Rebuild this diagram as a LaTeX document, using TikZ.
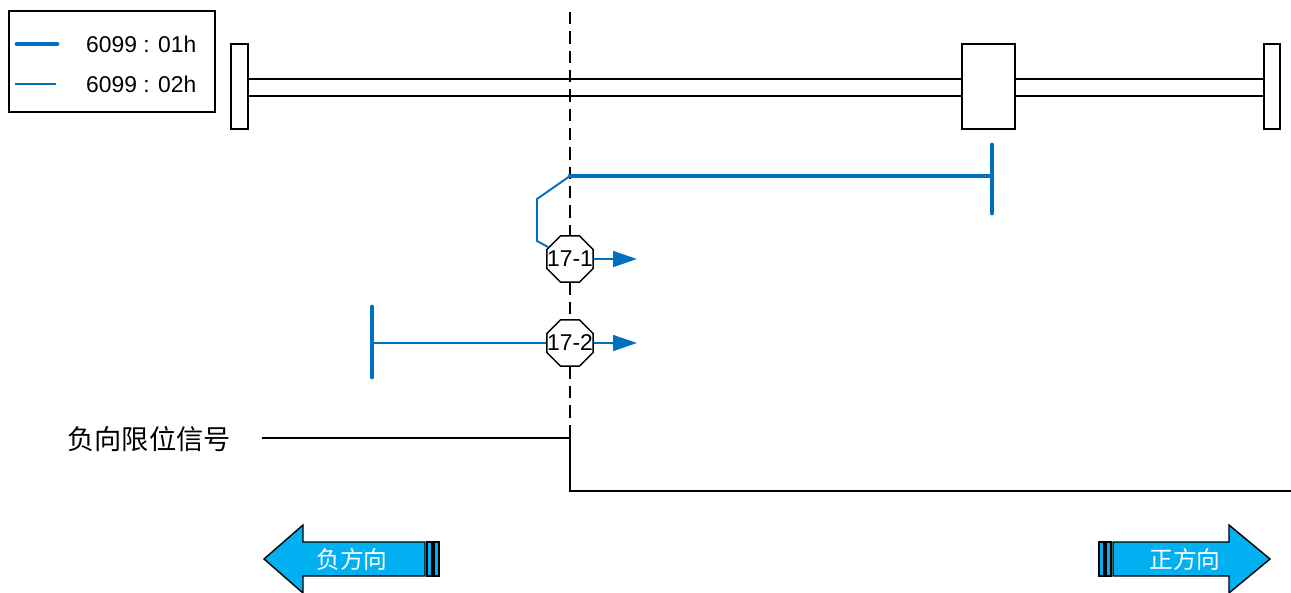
\documentclass[tikz,border=0pt]{standalone}
\usepackage{fontspec}
\setmainfont{Liberation Sans}
\newfontfamily\cjk{Noto Sans CJK SC}
\usetikzlibrary{arrows.meta,shapes.geometric}
\definecolor{limitblue}{HTML}{0070C0}
\definecolor{dircyan}{HTML}{00B0F0}

\begin{document}
\begin{tikzpicture}[x=0.02cm,y=-0.02cm,
  homeline/.style={limitblue,line width=2.8pt,line cap=round},
  searchline/.style={limitblue,line width=1.1pt},
  trigger/.style={draw,fill=white,regular polygon,regular polygon sides=8,
    minimum size=1cm,inner sep=0pt,line width=0.8pt,font=\fontsize{13}{13}\selectfont},
  tip/.style={-{Triangle[length=13.6pt,width=9pt]}},
  railline/.style={line width=0.85pt},
  dirarrow/.style={draw,fill=dircyan,line width=0.8pt}]
\useasboundingbox (0,0) rectangle (1291,592);
% legend
\draw[line width=0.8pt] (9,11) rectangle (215,112);
\draw[homeline] (17,44) -- (57,44);
\draw[searchline] (15,84) -- (56,84);
\node[anchor=west,font=\fontsize{13}{13}\selectfont] (leg1) at (80,44) {6099 : 01h};
\node[anchor=west,font=\fontsize{13}{13}\selectfont] (leg2) at (80,84) {6099 : 02h};
% rail with carriage
\draw[railline] (248,79) -- (962,79) (248,96) -- (962,96);
\draw[railline] (1015,79) -- (1264,79) (1015,96) -- (1264,96);
\draw[railline] (231,44) rectangle (248,129);
\draw[railline] (1264,44) rectangle (1280,129);
\draw[railline] (962,44) rectangle (1015,129);
% homing steps
\node[trigger] (m1) at (570,259) {\makebox[0pt]{17-1}};
\node[trigger] (m2) at (570,343) {\makebox[0pt]{17-2}};
\coordinate (top) at (570,12);
\coordinate (edge) at (570,438);
\coordinate (turn) at (570,176);
\coordinate (stop1) at (992,176);
\coordinate (stop2) at (372,343);
\coordinate (goal1) at (637,259);
\coordinate (goal2) at (637,343);
\draw[dash pattern=on 7pt off 4pt,line width=0.8pt] (top) -- (m1) (m1) -- (m2) (m2) -- (edge);
\draw[homeline] (turn) -- (stop1);
\draw[homeline] (992,145) -- (992,213);
\draw[searchline] (turn) -- (537,199) -- (537,241) -- (m1);
\draw[searchline,tip] (m1.east) -- (goal1);
\draw[searchline] (stop2) -- (m2);
\draw[homeline] (372,307) -- (372,377);
\draw[searchline,tip] (m2.east) -- (goal2);
% limit signal
\node[anchor=east,font=\cjk\fontsize{15.5}{15.5}\selectfont] (sig) at (237,439) {负向限位信号};
\draw[line width=1pt] (262,438) -- (edge) -- (570,491) -- (1291,491);
% direction arrows
\draw[dirarrow] (264,559) -- (303,525) -- (303,542) -- (425,542) -- (425,576) -- (303,576) -- (303,593) -- cycle;
\draw[dirarrow] (427,542) rectangle (432,576) (434,542) rectangle (439,576);
\node[white,font=\cjk\fontsize{13.5}{13.5}\selectfont] (neg) at (352,559) {负方向};
\draw[dirarrow] (1113,542) -- (1229,542) -- (1229,525) -- (1270,559) -- (1229,593) -- (1229,576) -- (1113,576) -- cycle;
\draw[dirarrow] (1099,542) rectangle (1104,576) (1106,542) rectangle (1111,576);
\node[white,font=\cjk\fontsize{13.5}{13.5}\selectfont] (pos) at (1185,559) {正方向};
\end{tikzpicture}
\end{document}
